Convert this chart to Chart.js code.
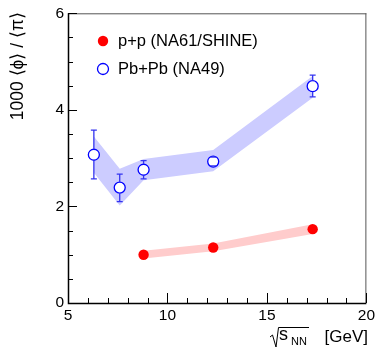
<!DOCTYPE html>
<html>
<head>
<meta charset="utf-8">
<script src="https://cdn.jsdelivr.net/npm/chart.js@4.4.1/dist/chart.umd.min.js"></script>
<style>
    body { margin: 0; background: #fff; }
    #wrap { width: 378px; height: 351px; }
</style>
</head>
<body>
<div id="wrap"><canvas id="phiChart" width="378" height="351"></canvas></div>
<script>
// p+p (NA61/SHINE)
const ppEnergy = [8.8, 12.3, 17.3];
const ppRatio = [1.00, 1.15, 1.53];
const ppSysLow = [0.92, 1.07, 1.43];
const ppSysHigh = [1.08, 1.23, 1.63];

// Pb+Pb (NA49)
const pbEnergy = [6.3, 7.6, 8.8, 12.3, 17.3];
const pbRatio = [3.07, 2.39, 2.76, 2.93, 4.49];
const pbStatLow = [2.57, 2.10, 2.57, 2.84, 4.27];
const pbStatHigh = [3.58, 2.67, 2.95, 3.02, 4.72];
const pbSysLow = [2.70, 2.02, 2.54, 2.73, 4.25];
const pbSysHigh = [3.45, 2.78, 2.98, 3.17, 4.70];

const xTicks = [5, 10, 15, 20];
const yTicks = [0, 2, 4, 6];

const FONT = '"Liberation Sans", Arial, Helvetica, sans-serif';

const pts = (xs, ys) => xs.map((x, i) => ({ x: x, y: ys[i] }));

// barras de error estadisticas (Pb+Pb)
const errorBars = {
    id: 'errorBars',
    afterDatasetsDraw(chart) {
        const ctx = chart.ctx;
        const xs = chart.scales.x, ys = chart.scales.y;
        const r = 5.5;
        ctx.save();
        ctx.strokeStyle = '#3434f0';
        ctx.lineWidth = 1.3;
        pbEnergy.forEach((e, i) => {
            const px = xs.getPixelForValue(e);
            const pc = ys.getPixelForValue(pbRatio[i]);
            const ph = ys.getPixelForValue(pbStatHigh[i]);
            const pl = ys.getPixelForValue(pbStatLow[i]);
            ctx.beginPath();
            if (pc - r > ph) { ctx.moveTo(px, ph); ctx.lineTo(px, pc - r); }
            if (pc + r < pl) { ctx.moveTo(px, pc + r); ctx.lineTo(px, pl); }
            ctx.moveTo(px - 3, ph); ctx.lineTo(px + 3, ph);
            ctx.moveTo(px - 3, pl); ctx.lineTo(px + 3, pl);
            ctx.stroke();
        });
        ctx.restore();
    }
};

// marco, ticks estilo ROOT, leyenda y titulos
const frameDecor = {
    id: 'frameDecor',
    afterDraw(chart) {
        const ctx = chart.ctx;
        const a = chart.chartArea;
        const xs = chart.scales.x, ys = chart.scales.y;
        ctx.save();
        ctx.strokeStyle = '#555';
        ctx.lineWidth = 1;
        ctx.beginPath();
        ctx.moveTo(a.left, a.top + 0.5); ctx.lineTo(a.right, a.top + 0.5);
        ctx.moveTo(a.right - 0.5, a.top); ctx.lineTo(a.right - 0.5, a.bottom);
        ctx.stroke();

        ctx.strokeStyle = '#000';
        ctx.lineWidth = 1.5;
        ctx.beginPath();
        ctx.moveTo(a.left + 0.5, a.top); ctx.lineTo(a.left + 0.5, a.bottom + 0.5);
        ctx.lineTo(a.right, a.bottom + 0.5);
        ctx.stroke();

        ctx.lineWidth = 1;
        ctx.beginPath();
        for (let v = 5; v <= 20; v += 1) {
            const px = Math.round(xs.getPixelForValue(v)) + 0.5;
            const len = v % 5 === 0 ? 10 : 5;
            ctx.moveTo(px, a.bottom); ctx.lineTo(px, a.bottom - len);
        }
        for (let v = 0; v <= 6; v += 0.5) {
            const py = Math.round(ys.getPixelForValue(v)) + 0.5;
            const len = v % 2 === 0 ? 9 : 5;
            ctx.moveTo(a.left, py); ctx.lineTo(a.left + len, py);
        }
        ctx.stroke();

        // leyenda
        ctx.font = '16.5px ' + FONT;
        ctx.textBaseline = 'middle';
        ctx.fillStyle = '#000';
        ctx.fillText('p+p (NA61/SHINE)', 118, 41);
        ctx.fillText('Pb+Pb (NA49)', 118, 69);
        ctx.beginPath();
        ctx.arc(103, 41, 5.2, 0, Math.PI * 2);
        ctx.fillStyle = '#ff0000';
        ctx.fill();
        ctx.beginPath();
        ctx.arc(103, 69, 5.5, 0, Math.PI * 2);
        ctx.strokeStyle = '#0000ff';
        ctx.lineWidth = 1.3;
        ctx.stroke();

        // titulo eje y
        ctx.fillStyle = '#000';
        ctx.save();
        ctx.translate(18, 12);
        ctx.rotate(-Math.PI / 2);
        ctx.textAlign = 'right';
        ctx.textBaseline = 'middle';
        ctx.font = '17.5px ' + FONT;
        ctx.fillText('1000 \u27E8\u03D5\u27E9 / \u27E8\u03C0\u27E9', 0, 0);
        ctx.restore();

        // titulo eje x: sqrt(s_NN) [GeV]
        ctx.textBaseline = 'alphabetic';
        ctx.textAlign = 'right';
        ctx.font = '17px ' + FONT;
        ctx.fillText('[GeV]', 368, 342);
        ctx.textAlign = 'left';
        ctx.font = '18px ' + FONT;
        ctx.fillText('s', 279, 340);
        ctx.font = '11px ' + FONT;
        ctx.fillText('NN', 291, 345);
        ctx.strokeStyle = '#000';
        ctx.lineWidth = 1;
        ctx.beginPath();
        ctx.moveTo(270, 337);
        ctx.lineTo(272.5, 335);
        ctx.lineTo(276, 347);
        ctx.lineTo(278.5, 327.5);
        ctx.lineTo(309, 327.5);
        ctx.stroke();
        ctx.restore();
    }
};

const ctx = document.getElementById('phiChart').getContext('2d');
const phiChart = new Chart(ctx, {
    type: 'scatter',
    data: {
        datasets: [
            {
                label: 'p+p (NA61/SHINE)',
                data: pts(ppEnergy, ppRatio),
                pointStyle: 'circle',
                pointRadius: 5.2,
                backgroundColor: '#ff0000',
                borderColor: '#ff0000',
                borderWidth: 0,
                showLine: false,
                order: 0
            },
            {
                label: 'Pb+Pb (NA49)',
                data: pts(pbEnergy, pbRatio),
                pointStyle: 'circle',
                pointRadius: 5.5,
                backgroundColor: '#ffffff',
                borderColor: '#0000ff',
                borderWidth: 1.3,
                showLine: false,
                order: 1
            },
            {
                label: 'pp sys low',
                data: pts(ppEnergy, ppSysLow),
                showLine: true,
                pointRadius: 0,
                borderWidth: 0,
                borderColor: 'rgba(0,0,0,0)',
                fill: false,
                order: 5
            },
            {
                label: 'pp sys high',
                data: pts(ppEnergy, ppSysHigh),
                showLine: true,
                pointRadius: 0,
                borderWidth: 0,
                borderColor: 'rgba(0,0,0,0)',
                backgroundColor: '#ffcccc',
                fill: '-1',
                order: 4
            },
            {
                label: 'pb sys low',
                data: pts(pbEnergy, pbSysLow),
                showLine: true,
                pointRadius: 0,
                borderWidth: 0,
                borderColor: 'rgba(0,0,0,0)',
                fill: false,
                order: 7
            },
            {
                label: 'pb sys high',
                data: pts(pbEnergy, pbSysHigh),
                showLine: true,
                pointRadius: 0,
                borderWidth: 0,
                borderColor: 'rgba(0,0,0,0)',
                backgroundColor: '#ccccff',
                fill: '-1',
                order: 6
            }
        ]
    },
    options: {
        responsive: false,
        animation: false,
        layout: {
            padding: { left: 0, right: 9, top: 12, bottom: 0 }
        },
        scales: {
            x: {
                type: 'linear',
                min: 5,
                max: 20,
                afterBuildTicks: scale => { scale.ticks = xTicks.map(v => ({ value: v })); },
                afterFit: scale => { scale.height = 48; },
                grid: { display: false, drawTicks: false },
                border: { display: false },
                ticks: {
                    padding: 3,
                    color: '#000',
                    font: { family: FONT, size: 15.5 },
                    maxRotation: 0
                }
            },
            y: {
                type: 'linear',
                min: 0,
                max: 6,
                afterBuildTicks: scale => { scale.ticks = yTicks.map(v => ({ value: v })); },
                afterFit: scale => { scale.width = 68; },
                grid: { display: false, drawTicks: false },
                border: { display: false },
                ticks: {
                    padding: 4,
                    color: '#000',
                    font: { family: FONT, size: 15.5 }
                }
            }
        },
        plugins: {
            legend: { display: false },
            tooltip: { enabled: false }
        }
    },
    plugins: [errorBars, frameDecor]
});
</script>
</body>
</html>
